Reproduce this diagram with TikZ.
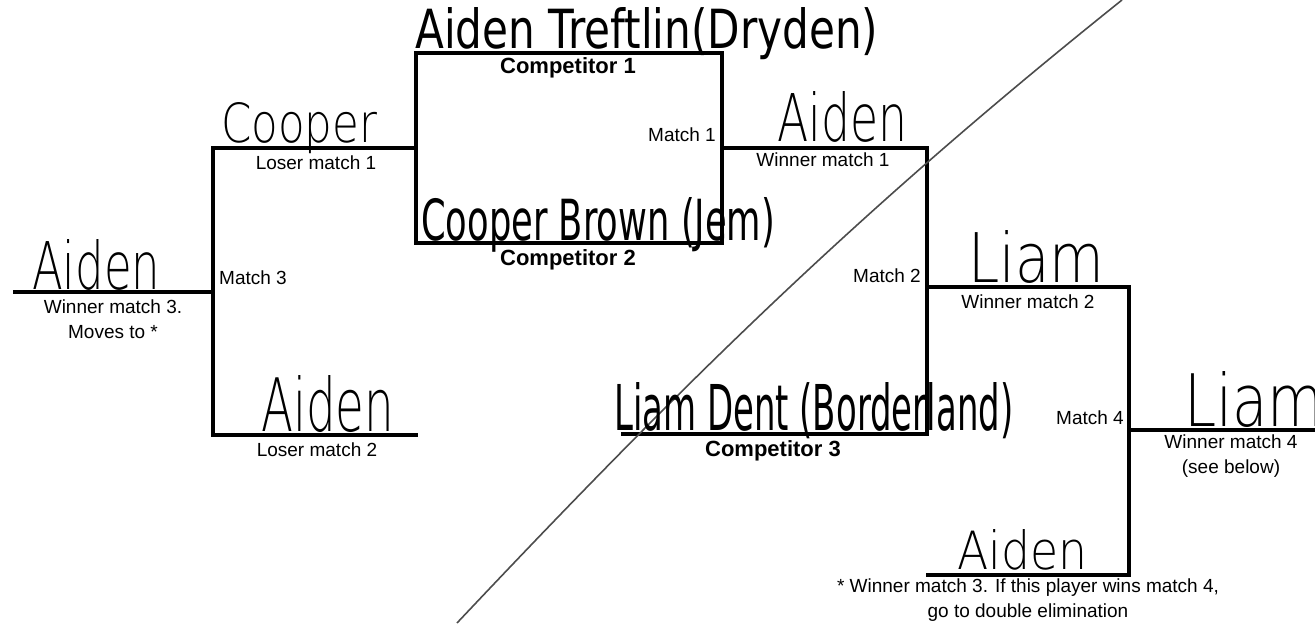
\documentclass[tikz,border=0pt]{standalone}
\usepackage{fontspec}
\setmainfont{Liberation Sans}
\newfontfamily\handfont{DejaVu Sans}
\newfontfamily\sketchfont{DejaVu Sans ExtraLight}
\usepackage{graphicx}
\usetikzlibrary{positioning}
\tikzset{
  bracket/.style={line width=3.4pt},
  lbl/.style={font=\fontsize{19}{25}\selectfont, inner sep=0pt, align=center},
  comp/.style={font=\bfseries\fontsize{22}{26}\selectfont, inner sep=0pt},
  scrawl/.style={anchor=base west, inner sep=0pt},
  pencil/.style={line width=1.6pt, black!70}
}
\newcommand{\scrawltext}[3]{\resizebox{#1pt}{#2pt}{\handfont #3}}
\newcommand{\sketchtext}[3]{\resizebox{#1pt}{#2pt}{\sketchfont #3}}

\begin{document}
\begin{tikzpicture}[x=1pt, y=-1pt]
    \useasboundingbox (0,0) rectangle (1315,624);
    % bracket corners
    \coordinate (c1w) at (416,53);
    \coordinate (c1e) at (722,53);
    \coordinate (c2w) at (416,243);
    \coordinate (c2e) at (722,243);
    \coordinate (l1w) at (213,148);
    \coordinate (l1e) at (416,148);
    \coordinate (l2w) at (213,435);
    \coordinate (l2e) at (418,435);
    \coordinate (w3w) at (13,292);
    \coordinate (w3e) at (213,292);
    \coordinate (w1w) at (722,148);
    \coordinate (w1e) at (927,148);
    \coordinate (c3w) at (621,434);
    \coordinate (c3e) at (927,434);
    \coordinate (w2w) at (927,287);
    \coordinate (w2e) at (1129,287);
    \coordinate (b4w) at (926,575);
    \coordinate (b4e) at (1129,575);
    \coordinate (w4w) at (1129,430);
    \coordinate (w4e) at (1315,430);
    \coordinate (s1) at (457,623);
    \coordinate (s2) at (1122,0);
    \draw[bracket] (c1w) -- (c1e) -- (c2e) -- (c2w) -- cycle;
    \draw[bracket] (l1e) -- (l1w) -- (l2w) -- (l2e);
    \draw[bracket] (w3w) -- (w3e);
    \draw[bracket] (w1w) -- (w1e) -- (c3e) -- (c3w);
    \draw[bracket] (w2w) -- (w2e) -- (b4e) -- (b4w);
    \draw[bracket] (w4w) -- (w4e);
    \draw[pencil] (s1) .. controls (687,379) and (862,208) .. (s2);
    % printed labels
    \node[comp] (comp1) at (568,68) {Competitor 1};
    \node[comp] (comp2) at (568,260) {Competitor 2};
    \node[comp] (comp3) at (773,451) {Competitor 3};
    \node[lbl, anchor=east] (m1) at (716,135) {Match 1};
    \node[lbl, anchor=east] (m2) at (921,276) {Match 2};
    \node[lbl, anchor=west] (m3) at (219,278) {Match 3};
    \node[lbl, anchor=east] (m4) at (1124,418) {Match 4};
    \node[lbl] (wm1) at (823,160) {Winner match 1};
    \node[lbl] (wm2) at (1028,302) {Winner match 2};
    \node[lbl] (lm1) at (316,163) {Loser match 1};
    \node[lbl] (lm2) at (317,450) {Loser match 2};
    \node[lbl] (wm3) at (113,319) {Winner match 3.\\Moves to *};
    \node[lbl] (wm4) at (1231,456) {Winner match 4\\(see below)};
    \node[lbl] (note) at (1028,600) {* Winner match 3. If this player wins match 4,\\go to double elimination};
    % handwritten names
    \node[scrawl] (n1) at (415,48) {\scrawltext{463}{41}{Aiden Treftlin(Dryden)}};
    \node[scrawl] (n2) at (421,240) {\scrawltext{354}{43}{Cooper Brown (Jem)}};
    \node[scrawl] (n3) at (614,430) {\scrawltext{399}{48}{Liam Dent (Borderland)}};
    \node[scrawl] (n4) at (221,142) {\sketchtext{156}{40}{Cooper}};
    \node[scrawl] (n5) at (777,141) {\sketchtext{130}{50}{Aiden}};
    \node[scrawl] (n6) at (32,289) {\sketchtext{128}{50}{Aiden}};
    \node[scrawl] (n7) at (968,282) {\sketchtext{136}{52}{Liam}};
    \node[scrawl] (n8) at (261,431) {\sketchtext{133}{56}{Aiden}};
    \node[scrawl] (n9) at (1184,426) {\sketchtext{140}{55}{Liam}};
    \node[scrawl] (n10) at (957,569) {\sketchtext{130}{40}{Aiden}};
\end{tikzpicture}
\end{document}
